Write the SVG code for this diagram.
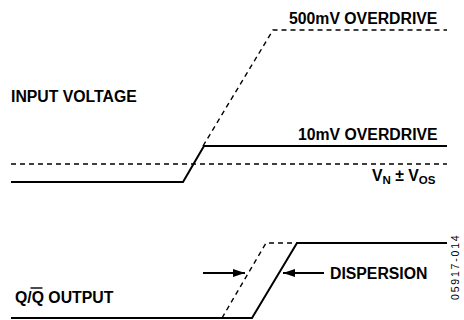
<svg xmlns="http://www.w3.org/2000/svg" width="464" height="320" viewBox="0 0 464 320">
<style>
.t{font-family:"Liberation Sans",Arial,sans-serif;font-weight:bold;font-size:15.8px;fill:#000}
.s{fill:none;stroke:#000;stroke-width:2;stroke-linejoin:miter}
.d{fill:none;stroke:#000;stroke-width:1.4;stroke-dasharray:5 4}
.id{font-family:"Liberation Sans",Arial,sans-serif;font-size:10.5px;letter-spacing:1.8px;fill:#000}
</style>
<defs>
<marker id="ah" viewBox="0 0 12 8" refX="12" refY="4" markerWidth="12" markerHeight="8" markerUnits="userSpaceOnUse" orient="auto">
<path d="M0,0 L12,4 L0,8 Z" fill="#000"/>
</marker>
</defs>
<g id="connectors">
<path class="d" d="M11,164 H447"/>
<path class="d" d="M203,146 L273,30 H447"/>
<path class="s" d="M11,182 H183 L204,146 H447"/>
<path class="d" d="M222,318 L266,243 H297"/>
<path class="s" d="M11,318 H252 L297,243 H447"/>
<line x1="203" y1="273" x2="245" y2="273" stroke="#000" stroke-width="2" marker-end="url(#ah)"/>
<line x1="324" y1="273" x2="283" y2="273" stroke="#000" stroke-width="2" marker-end="url(#ah)"/>
</g>
<g id="labels">
<text class="t" x="289" y="24">500mV OVERDRIVE</text>
<text class="t" x="11" y="102">INPUT VOLTAGE</text>
<text class="t" x="298" y="140">10mV OVERDRIVE</text>
<text class="t" x="372" y="181">V<tspan font-size="11.5px" dy="3">N</tspan><tspan dy="-3"> ± V</tspan><tspan font-size="11.5px" dy="3">OS</tspan></text>
<text class="t" x="330" y="279">DISPERSION</text>
<text class="t" x="15" y="303">Q/Q OUTPUT</text>
<line x1="30.5" y1="288" x2="42.5" y2="288" stroke="#000" stroke-width="1.4"/>
<text class="id" transform="translate(459,300) rotate(-90)">05917-014</text>
</g>
</svg>
